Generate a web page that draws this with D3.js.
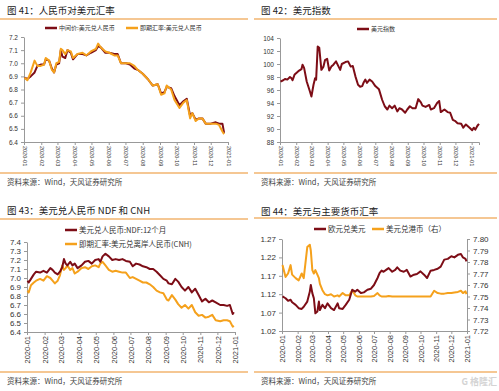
<!DOCTYPE html>
<html>
<head>
<meta charset="utf-8">
<script src="https://d3js.org/d3.v7.min.js"></script>
<style>
  body { margin: 0; background: #fff; }
  svg { display: block; font-family: "Liberation Sans", Arial, "Noto Sans CJK SC", sans-serif; }
  .cn { font-family: "Noto Sans CJK SC", sans-serif; }
</style>
</head>
<body>
<svg id="chart" width="499" height="391"></svg>
<script>
// ---- 图41 人民币对美元汇率
const p1Dates = ["2020-01-02","2020-01-07","2020-01-13","2020-01-20","2020-01-25","2020-01-31","2020-02-06","2020-02-09","2020-02-15","2020-02-20","2020-02-24","2020-02-28","2020-03-04","2020-03-07","2020-03-10","2020-03-15","2020-03-19","2020-03-25","2020-03-29","2020-04-06","2020-04-15","2020-04-22","2020-04-30","2020-05-09","2020-05-13","2020-05-18","2020-05-26","2020-06-02","2020-06-11","2020-06-17","2020-06-23","2020-07-02","2020-07-09","2020-07-17","2020-07-23","2020-08-01","2020-08-10","2020-08-19","2020-08-28","2020-09-03","2020-09-09","2020-09-13","2020-09-21","2020-09-27","2020-10-06","2020-10-13","2020-10-19","2020-10-25","2020-10-29","2020-11-04","2020-11-10","2020-11-16","2020-11-22","2020-12-01","2020-12-10","2020-12-16","2020-12-22","2020-12-25"];
const p1Spot = [6.89,6.87,6.93,7.02,6.98,6.98,6.99,7.04,7.02,6.95,6.93,7.00,7.01,7.11,7.10,7.07,7.10,7.09,7.04,7.07,7.08,7.06,7.09,7.11,7.15,7.12,7.09,7.08,7.06,7.06,7.00,7.00,7.00,6.98,6.95,6.92,6.88,6.83,6.84,6.76,6.77,6.83,6.80,6.72,6.66,6.70,6.72,6.58,6.62,6.56,6.58,6.58,6.54,6.54,6.54,6.53,6.48,6.46];
const p1Mid  = [6.89,6.88,6.90,6.93,6.98,6.99,6.99,7.03,7.02,6.96,6.93,6.99,7.00,7.10,7.05,7.04,7.10,7.08,7.03,7.07,7.07,7.06,7.08,7.10,7.13,7.12,7.08,7.08,7.07,7.07,7.00,7.00,6.99,6.96,6.95,6.92,6.88,6.83,6.84,6.77,6.78,6.82,6.81,6.75,6.68,6.71,6.73,6.60,6.62,6.57,6.58,6.58,6.54,6.54,6.55,6.54,6.54,6.47];
const p1Ticks = [6.4,6.5,6.6,6.7,6.8,6.9,7.0,7.1,7.2];

// ---- 图42 美元指数
const p2Dates = ["2020-01-02","2020-01-07","2020-01-11","2020-01-15","2020-01-20","2020-01-23","2020-01-25","2020-01-29","2020-02-05","2020-02-11","2020-02-13","2020-02-16","2020-02-21","2020-02-27","2020-03-01","2020-03-05","2020-03-08","2020-03-10","2020-03-13","2020-03-16","2020-03-20","2020-03-24","2020-03-27","2020-03-31","2020-04-04","2020-04-08","2020-04-12","2020-04-17","2020-04-20","2020-04-25","2020-04-28","2020-05-05","2020-05-10","2020-05-15","2020-05-19","2020-05-24","2020-05-29","2020-06-02","2020-06-06","2020-06-09","2020-06-12","2020-06-15","2020-06-20","2020-06-25","2020-07-01","2020-07-08","2020-07-14","2020-07-19","2020-07-24","2020-07-28","2020-08-02","2020-08-07","2020-08-12","2020-08-16","2020-08-21","2020-08-27","2020-08-31","2020-09-05","2020-09-10","2020-09-16","2020-09-21","2020-09-26","2020-09-29","2020-10-05","2020-10-12","2020-10-15","2020-10-21","2020-10-27","2020-10-31","2020-11-03","2020-11-10","2020-11-16","2020-11-21","2020-11-26","2020-12-01","2020-12-05","2020-12-12","2020-12-16","2020-12-21","2020-12-28","2021-01-02","2021-01-05","2021-01-08","2021-01-12","2021-01-15"];
const p2Dxy = [97.3,97.5,97.7,97.6,98.0,97.8,97.5,98.4,98.9,99.2,99.9,99.4,97.3,95.8,95.0,96.8,97.8,97.6,102.7,102.5,99.1,99.6,100.6,100.8,99.0,99.6,99.9,100.4,99.9,99.1,100.0,100.3,100.4,99.6,99.7,98.1,96.8,96.5,96.6,97.2,97.6,97.1,97.6,97.3,96.6,96.1,94.5,93.5,93.0,93.6,93.2,93.6,92.7,93.2,93.0,92.5,93.0,93.5,93.2,93.2,94.6,94.1,93.6,93.4,93.7,93.0,93.2,94.0,94.3,92.6,93.0,92.6,92.5,91.4,91.2,90.9,90.8,90.2,90.7,90.2,89.8,90.2,89.9,90.5,90.8];
const p2Ticks = [88,90,92,94,96,98,100,102,104];

// ---- 图43 美元兑人民币 NDF 和 CNH
const p3Dates = ["2020-01-02","2020-01-04","2020-01-08","2020-01-13","2020-01-17","2020-01-24","2020-01-30","2020-02-05","2020-02-11","2020-02-15","2020-02-19","2020-02-24","2020-02-28","2020-03-03","2020-03-06","2020-03-09","2020-03-12","2020-03-17","2020-03-21","2020-03-25","2020-03-30","2020-04-06","2020-04-12","2020-04-18","2020-04-24","2020-04-30","2020-05-06","2020-05-09","2020-05-13","2020-05-18","2020-05-24","2020-05-30","2020-06-05","2020-06-11","2020-06-17","2020-06-23","2020-06-30","2020-07-05","2020-07-11","2020-07-17","2020-07-23","2020-07-29","2020-08-04","2020-08-10","2020-08-16","2020-08-22","2020-08-28","2020-09-03","2020-09-06","2020-09-12","2020-09-18","2020-09-23","2020-09-29","2020-10-05","2020-10-11","2020-10-17","2020-10-23","2020-10-29","2020-11-04","2020-11-10","2020-11-16","2020-11-22","2020-11-28","2020-12-06","2020-12-12","2020-12-18","2020-12-23","2020-12-28","2020-12-30"];
const p3Ndf = [6.97,6.95,6.99,7.04,7.07,7.06,7.08,7.06,7.11,7.09,7.06,7.04,7.07,7.12,7.21,7.16,7.14,7.18,7.14,7.16,7.11,7.14,7.18,7.19,7.16,7.20,7.21,7.18,7.24,7.27,7.24,7.20,7.21,7.20,7.21,7.19,7.18,7.13,7.16,7.15,7.13,7.12,7.10,7.10,7.07,7.03,6.99,6.97,6.94,6.93,6.99,6.96,6.90,6.86,6.90,6.84,6.88,6.81,6.74,6.77,6.73,6.75,6.73,6.70,6.70,6.69,6.70,6.60,6.62];
const p3Cnh = [6.86,6.84,6.92,6.95,6.97,6.99,6.97,7.02,7.00,6.97,6.94,6.97,7.03,7.14,7.09,7.11,7.14,7.09,7.11,7.05,7.07,7.11,7.12,7.10,7.13,7.14,7.12,7.16,7.18,7.14,7.09,7.07,7.08,7.07,7.06,7.06,7.00,7.01,6.99,6.97,6.95,6.95,6.93,6.90,6.86,6.84,6.83,6.76,6.75,6.81,6.76,6.71,6.67,6.70,6.66,6.70,6.62,6.58,6.59,6.56,6.57,6.59,6.53,6.52,6.53,6.53,6.52,6.46,6.47];
const p3Ticks = [6.4,6.5,6.6,6.7,6.8,6.9,7.0,7.1,7.2,7.3,7.4];

// ---- 图44 美元与主要货币汇率
const p4Dates = ["2020-01-02","2020-01-08","2020-01-13","2020-01-18","2020-01-21","2020-01-28","2020-02-03","2020-02-09","2020-02-13","2020-02-20","2020-02-25","2020-02-27","2020-03-01","2020-03-04","2020-03-07","2020-03-11","2020-03-14","2020-03-16","2020-03-21","2020-03-26","2020-03-31","2020-04-07","2020-04-13","2020-04-20","2020-04-23","2020-04-30","2020-05-06","2020-05-13","2020-05-19","2020-05-25","2020-05-29","2020-06-05","2020-06-11","2020-06-18","2020-06-25","2020-07-01","2020-07-08","2020-07-12","2020-07-16","2020-07-20","2020-07-25","2020-07-30","2020-08-06","2020-08-12","2020-08-16","2020-08-22","2020-08-29","2020-09-04","2020-09-11","2020-09-18","2020-09-24","2020-10-01","2020-10-08","2020-10-14","2020-10-21","2020-10-28","2020-11-04","2020-11-10","2020-11-17","2020-11-24","2020-12-01","2020-12-07","2020-12-14","2020-12-20","2020-12-24","2020-12-29","2020-12-31"];
const p4Eur = [1.114,1.109,1.102,1.105,1.098,1.091,1.082,1.080,1.086,1.100,1.127,1.145,1.123,1.109,1.068,1.073,1.100,1.077,1.091,1.082,1.095,1.082,1.077,1.095,1.082,1.080,1.091,1.105,1.132,1.127,1.132,1.123,1.125,1.132,1.135,1.145,1.164,1.177,1.184,1.181,1.186,1.191,1.181,1.186,1.193,1.184,1.181,1.186,1.168,1.173,1.175,1.182,1.173,1.164,1.184,1.186,1.189,1.195,1.214,1.216,1.223,1.220,1.227,1.229,1.220,1.216,1.209];
const p4Hkd = [7.7773,7.7670,7.7700,7.7773,7.7690,7.7660,7.7640,7.7700,7.7660,7.7930,7.7950,7.7900,7.7730,7.7700,7.7730,7.7690,7.7660,7.7610,7.7555,7.7520,7.7510,7.7520,7.7500,7.7510,7.7500,7.7530,7.7510,7.7510,7.7555,7.7510,7.7500,7.7500,7.7500,7.7500,7.7500,7.7505,7.7530,7.7510,7.7500,7.7500,7.7500,7.7505,7.7500,7.7500,7.7500,7.7500,7.7500,7.7500,7.7500,7.7500,7.7500,7.7500,7.7500,7.7500,7.7500,7.7550,7.7530,7.7525,7.7525,7.7530,7.7530,7.7535,7.7540,7.7550,7.7530,7.7545,7.7520];
const p4LeftTicks = [1.02,1.07,1.12,1.17,1.22,1.27];
const p4RightTicks = [7.72,7.73,7.74,7.75,7.76,7.77,7.78,7.79,7.80];

const RED = "#7d0d16", ORANGE = "#f5a11c", RULE = "#f2b46f";
const parse = d3.timeParse("%Y-%m-%d");
const svg = d3.select("#chart");

function frame(x0, x1, yTitle, yRule, yBottom, title) {
  svg.append("text").attr("class", "cn").attr("x", x0 + 7).attr("y", yTitle)
     .attr("font-size", 9.5).attr("fill", "#222").text(title);
  svg.append("line").attr("x1", x0).attr("x2", x1).attr("y1", yRule).attr("y2", yRule)
     .attr("stroke", RULE).attr("stroke-width", 1.5);
  svg.append("line").attr("x1", x0).attr("x2", x1).attr("y1", yBottom).attr("y2", yBottom)
     .attr("stroke", RULE).attr("stroke-width", 1.5);
  svg.append("text").attr("class", "cn").attr("x", x0 + 7).attr("y", yBottom + 12)
     .attr("font-size", 7.5).attr("fill", "#444").text("资料来源：Wind，天风证券研究所");
}

function legendItem(x, y, color, label, size) {
  svg.append("line").attr("x1", x).attr("x2", x + 12).attr("y1", y).attr("y2", y)
     .attr("stroke", color).attr("stroke-width", 2.5);
  svg.append("text").attr("class", "cn").attr("x", x + 14).attr("y", y).attr("dy", "0.35em")
     .attr("font-size", size).attr("fill", "#333").text(label);
}

function xAxis(x, y, fontSize, rot) {
  const g = svg.append("g").attr("transform", `translate(0,${y})`)
    .call(d3.axisBottom(x).ticks(d3.timeMonth.every(1)).tickFormat(d3.timeFormat("%Y-%m"))
      .tickSizeOuter(0).tickSize(3));
  g.select(".domain").attr("stroke", "#999");
  g.selectAll(".tick line").attr("stroke", "#999");
  const t = g.selectAll(".tick text").attr("font-size", fontSize).attr("fill", "#333").attr("y", 0).attr("dy", "0.35em");
  if (rot > 0) t.attr("transform", "rotate(90)").attr("x", 4).attr("text-anchor", "start");
  else t.attr("transform", "rotate(-90)").attr("x", -4).attr("text-anchor", "end");
  return g;
}

function yAxis(y, x, ticks, fmt, fontSize, right) {
  const ax = (right ? d3.axisRight(y) : d3.axisLeft(y)).tickValues(ticks).tickFormat(d3.format(fmt))
    .tickSize(3).tickSizeOuter(0).tickPadding(3);
  const g = svg.append("g").attr("transform", `translate(${x},0)`).call(ax);
  g.select(".domain").attr("stroke", "#999");
  g.selectAll(".tick line").attr("stroke", "#999");
  g.selectAll(".tick text").attr("font-size", fontSize).attr("fill", "#333");
  return g;
}

function series(x, y, dates, vals, color, w) {
  const pts = dates.map((d, i) => [parse(d), vals[i]]);
  svg.append("path").datum(pts).attr("fill", "none").attr("stroke", color)
     .attr("stroke-width", w).attr("stroke-linejoin", "round")
     .attr("d", d3.line().x(d => x(d[0])).y(d => y(d[1])));
}

// panel 1
frame(0, 248, 14, 19, 173, "图 41：人民币对美元汇率");
{
  const x = d3.scaleTime().domain([parse("2020-01-01"), parse("2021-01-01")]).range([24, 228]);
  const y = d3.scaleLinear().domain([6.4, 7.2]).range([142, 37]);
  yAxis(y, 24, p1Ticks, ".1f", 6.5, false);
  xAxis(x, 142, 5.5, 1);
  series(x, y, p1Dates, p1Mid, RED, 2);
  series(x, y, p1Dates, p1Spot, ORANGE, 2);
  legendItem(45, 28, RED, "中间价:美元兑人民币", 6);
  legendItem(126, 28, ORANGE, "即期汇率:美元兑人民币", 6);
}

// panel 2
frame(254, 497, 14, 19, 173, "图 42：美元指数");
{
  const x = d3.scaleTime().domain([parse("2020-01-01"), parse("2021-01-15")]).range([280, 479]);
  const y = d3.scaleLinear().domain([88, 104]).range([142, 38]);
  yAxis(y, 280, p2Ticks, "d", 6.5, false);
  xAxis(x, 142, 5.5, 1);
  series(x, y, p2Dates, p2Dxy, RED, 2);
  legendItem(357, 29, RED, "美元指数", 6);
}

// panel 3
frame(0, 248, 214, 219, 372, "图 43：美元兑人民币 NDF 和 CNH");
{
  const x = d3.scaleTime().domain([parse("2020-01-01"), parse("2021-01-01")]).range([27, 235]);
  const y = d3.scaleLinear().domain([6.4, 7.4]).range([332, 242]);
  yAxis(y, 27, p3Ticks, ".1f", 8, false);
  xAxis(x, 332, 7.5, -1);
  series(x, y, p3Dates, p3Cnh, ORANGE, 2);
  series(x, y, p3Dates, p3Ndf, RED, 2);
  legendItem(65, 230, RED, "美元兑人民币:NDF:12个月", 7.5);
  legendItem(65, 244, ORANGE, "即期汇率:美元兑离岸人民币(CNH)", 7.5);
}

// panel 4
frame(254, 497, 215, 218, 372, "图 44：美元与主要货币汇率");
{
  const x = d3.scaleTime().domain([parse("2020-01-01"), parse("2021-01-01")]).range([282, 467]);
  const yL = d3.scaleLinear().domain([1.02, 1.27]).range([331, 239]);
  const yR = d3.scaleLinear().domain([7.72, 7.80]).range([331, 239]);
  yAxis(yL, 282, p4LeftTicks, ".2f", 8, false);
  yAxis(yR, 467, p4RightTicks, ".2f", 8, true);
  xAxis(x, 331, 7.5, -1);
  series(x, yR, p4Dates, p4Hkd, ORANGE, 2);
  series(x, yL, p4Dates, p4Eur, RED, 2);
  legendItem(314, 229, RED, "欧元兑美元", 7.5);
  legendItem(372, 229, ORANGE, "美元兑港币（右）", 7.5);
  svg.append("text").attr("class", "cn").attr("x", 497).attr("y", 385).attr("text-anchor", "end")
     .attr("font-size", 9).attr("font-weight", "bold").attr("fill", "#d4d4d4").text("G 格隆汇");
}
</script>
</body>
</html>
